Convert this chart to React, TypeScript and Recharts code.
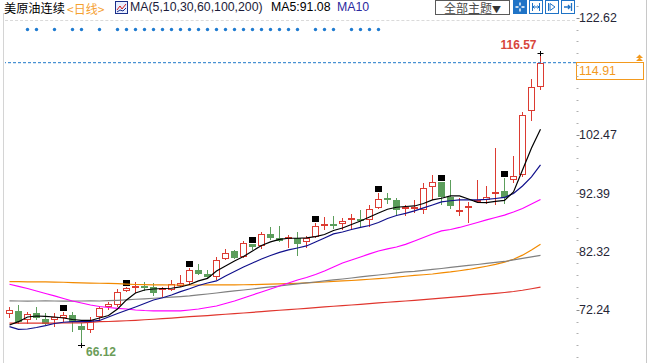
import { ComposedChart, Bar, Line, XAxis, YAxis, ReferenceLine } from 'recharts'

// daily candles (oldest first)
const opens = [
  71.5, 72.07, 70.5, 71.67, 70.7, 70.5, 70.8, 71.38, 69.48, 68.79,
  70.98, 72.7, 73.1, 75.57, 75.81, 76.38, 76.26, 75.64, 75.64, 76.43,
  77.02, 79.14, 78.45, 77.99, 81.04, 82.42, 81.34, 83.58, 83.34, 85.3,
  84.6, 84.32, 84.6, 84.03, 84.89, 86.74, 87.03, 87.03, 87.72, 87.95,
  87.78, 89.8, 91.52, 91.23, 89.62, 89.5, 89.5, 93.52, 94.28, 91.8,
  88.93, 89.8, 90.9, 91.23, 92.05, 92.78, 94.67, 95.54, 106.63, 110.77,
]
const highs = [
  72.8, 73.1, 71.95, 72.7, 71.8, 71.67, 71.95, 71.95, 69.94, 71.08,
  72.93, 73.67, 75.81, 76.2, 77.0, 77.13, 76.85, 76.26, 77.42, 78.28,
  79.54, 80.13, 79.14, 81.44, 82.72, 82.6, 84.15, 83.65, 85.75, 86.51,
  86.79, 85.18, 85.75, 85.01, 87.2, 88.34, 88.51, 88.07, 88.8, 89.45,
  90.36, 92.38, 92.38, 91.52, 90.36, 91.23, 94.11, 95.54, 94.4, 94.67,
  91.52, 90.83, 94.67, 93.64, 100.15, 94.97, 98.81, 106.46, 112.05, 116.57,
]
const lows = [
  70.8, 69.9, 69.9, 70.5, 69.65, 69.36, 70.2, 68.5, 66.12, 68.3,
  70.5, 72.24, 72.81, 75.35, 75.2, 75.52, 74.66, 74.54, 75.52, 76.26,
  76.55, 78.28, 77.71, 77.42, 80.87, 81.04, 81.16, 82.6, 82.77, 84.32,
  83.92, 82.89, 81.61, 82.89, 84.6, 86.05, 86.17, 86.05, 86.22, 86.62,
  86.62, 89.7, 90.48, 88.66, 88.5, 88.93, 88.8, 91.3, 90.36, 89.67,
  88.52, 87.31, 90.8, 90.48, 90.36, 90.48, 94.21, 95.24, 104.85, 110.2,
]
const closes = [
  72.2, 70.2, 71.5, 70.8, 69.9, 71.08, 71.38, 70.22, 68.79, 70.5,
  72.53, 73.22, 75.4, 76.09, 76.26, 76.2, 75.12, 75.86, 76.68, 76.85,
  79.14, 78.45, 77.99, 80.87, 82.13, 81.27, 83.75, 83.17, 85.3, 84.6,
  84.15, 84.6, 83.68, 84.6, 86.74, 86.91, 86.91, 87.6, 87.95, 87.6,
  89.62, 91.35, 91.35, 89.5, 89.8, 89.8, 93.35, 94.28, 91.8, 90.24,
  89.38, 89.97, 91.0, 91.69, 92.45, 91.52, 95.36, 105.89, 110.77, 114.91,
]

// moving averages as drawn
const ma5 = [
  69.65, 70.22, 71.03, 71.2, 71.12, 71.03, 70.86, 70.6, 70.43, 70.43,
  70.86, 71.29, 72.41, 73.97, 75.17, 75.69, 75.86, 75.95, 75.99, 76.21,
  76.64, 77.25, 77.68, 78.97, 79.83, 80.7, 81.47, 82.42, 83.37, 83.98,
  84.41, 84.62, 84.62, 84.67, 84.89, 85.27, 85.96, 86.39, 87.0, 87.6,
  88.29, 88.98, 89.62, 89.97, 90.1, 90.19, 90.62, 91.23, 91.52, 91.92,
  91.92, 91.4, 90.8, 90.76, 90.97, 91.14, 92.61, 96.4, 100.2, 103.43,
]
const ma10 = [
  69.36, 68.88, 68.96, 69.22, 69.53, 69.91, 70.12, 70.22, 70.22, 70.26,
  70.43, 71.03, 71.64, 72.19, 72.76, 73.36, 73.97, 74.35, 74.83, 75.4,
  75.9, 76.47, 76.9, 77.25, 78.11, 78.89, 79.66, 80.35, 81.04, 81.65,
  82.17, 82.6, 82.94, 83.29, 83.98, 84.67, 85.36, 85.7, 86.13, 86.48,
  86.82, 87.34, 88.03, 88.55, 88.9, 89.33, 89.85, 90.36, 90.88, 91.09,
  91.23, 91.23, 91.23, 91.31, 91.48, 91.66, 92.35, 93.64, 95.2, 97.27,
]
const ma30 = [
  76.68, 76.3, 75.95, 75.52, 75.09, 74.66, 74.22, 73.79, 73.45, 73.1,
  72.84, 72.67, 72.53, 72.41, 72.24, 72.15, 72.1, 72.07, 72.07, 72.1,
  72.24, 72.41, 72.67, 72.93, 73.36, 73.79, 74.31, 74.83, 75.35, 75.86,
  76.38, 76.9, 77.42, 77.85, 78.37, 78.97, 79.66, 80.35, 80.87, 81.39,
  81.91, 82.42, 82.77, 83.11, 83.55, 84.15, 84.75, 85.36, 85.88, 86.13,
  86.48, 86.91, 87.34, 87.78, 88.2, 88.6, 89.15, 89.76, 90.54, 91.31,
]
const ma60 = [
  73.8, 73.79, 73.78, 73.79, 73.8, 73.79, 73.77, 73.78, 73.79, 73.8,
  73.79, 73.85, 73.91, 74.0, 74.09, 74.17, 74.26, 74.35, 74.45, 74.55,
  74.66, 74.83, 75.0, 75.17, 75.35, 75.52, 75.69, 75.86, 76.04, 76.21,
  76.38, 76.56, 76.73, 76.9, 77.07, 77.25, 77.42, 77.59, 77.76, 77.94,
  78.11, 78.28, 78.45, 78.63, 78.8, 78.89, 79.06, 79.23, 79.4, 79.58,
  79.75, 79.92, 80.09, 80.27, 80.44, 80.61, 80.87, 81.13, 81.39, 81.65,
]
const ma100 = [
  77.12, 77.12, 77.1, 77.1, 77.08, 77.06, 77.02, 76.95, 76.9, 76.88,
  76.85, 76.82, 76.78, 76.7, 76.64, 76.6, 76.58, 76.56, 76.55, 76.55,
  76.55, 76.55, 76.56, 76.56, 76.56, 76.57, 76.59, 76.62, 76.66, 76.69,
  76.73, 76.78, 76.83, 76.9, 76.99, 77.07, 77.16, 77.25, 77.33, 77.42,
  77.54, 77.64, 77.76, 77.9, 78.06, 78.2, 78.32, 78.45, 78.63, 78.8,
  79.01, 79.23, 79.49, 79.78, 80.1, 80.5, 81.0, 81.7, 82.6, 83.6,
]
const ma200 = [
  69.96, 69.96, 69.97, 69.97, 69.98, 69.98, 69.99, 70.0, 70.02, 70.1,
  70.22, 70.25, 70.3, 70.38, 70.46, 70.55, 70.64, 70.74, 70.85, 70.97,
  71.08, 71.18, 71.28, 71.38, 71.5, 71.6, 71.72, 71.84, 71.96, 72.07,
  72.19, 72.31, 72.41, 72.53, 72.65, 72.76, 72.88, 73.0, 73.1, 73.22,
  73.34, 73.45, 73.57, 73.69, 73.79, 73.91, 74.03, 74.14, 74.28, 74.41,
  74.55, 74.69, 74.83, 74.97, 75.11, 75.26, 75.43, 75.64, 75.9, 76.17,
]

const yTicks = [72.24, 82.32, 92.39, 102.47, 122.62]
const lastClose = 114.91
const markedDays = [7, 14, 21, 28, 35, 42, 49, 56]
const eventDays = [
  3, 4, 6, 8, 9, 11, 13, 14, 15, 16, 17, 18, 19, 20, 21, 22, 23, 24, 25, 26,
  27, 28, 29, 30, 31, 32, 33, 35, 36, 37, 39, 40, 41, 42,
]
const blankSlots = 4

const UP = '#dc3b32'
const DOWN = '#5c9e5c'
const LATIN = '"Liberation Sans", Arial, "Noto Sans CJK SC", sans-serif'
const CJK = '"Noto Sans CJK SC", "Liberation Sans", sans-serif'

const hiIdx = highs.indexOf(Math.max(...highs))
const loIdx = lows.indexOf(Math.min(...lows))

const data = [
  ...opens.map((o, i) => ({
    day: i + 1,
    hl: [lows[i], highs[i]],
    o, h: highs[i], l: lows[i], c: closes[i],
    ma5: ma5[i], ma10: ma10[i], ma30: ma30[i], ma60: ma60[i], ma100: ma100[i], ma200: ma200[i],
  })),
  ...Array.from({ length: blankSlots }, (_, k) => ({ day: opens.length + k + 1 })),
]

// minor ticks: five per labelled step, plus the labelled ones themselves
const minorStep = (yTicks[1] - yTicks[0]) / 5
const minorTicks: number[] = []
for (let k = -4; k <= 26; k++) {
  const v = yTicks[0] + k * minorStep
  if (!yTicks.some((t) => Math.abs(t - v) < 0.5)) minorTicks.push(v)
}
const axisTicks = [...minorTicks, ...yTicks]

function Candle(props: any) {
  const { x, width, y, height, payload } = props
  if (!payload || payload.o == null) return null
  const idx = payload.day - 1
  const cx = Math.floor(x + width / 2) + 0.5
  const k = payload.h > payload.l ? height / (payload.h - payload.l) : 0
  const py = (v: number) => Math.round(y + (payload.h - v) * k)
  const yH = py(payload.h)
  const yL = py(payload.l)
  const yO = py(payload.o)
  const yC = py(payload.c)
  const top = Math.min(yO, yC)
  const bot = Math.max(yO, yC)
  const up = payload.c >= payload.o
  const parts: any[] = []

  if (up) {
    if (bot - top < 3) {
      parts.push(<line key="w" x1={cx} x2={cx} y1={yH} y2={yL} stroke={UP} />)
      parts.push(<rect key="b" x={cx - 3.5} y={top - 1} width={7} height={2} fill={UP} />)
    } else {
      parts.push(<line key="wu" x1={cx} x2={cx} y1={yH} y2={top} stroke={UP} />)
      parts.push(<line key="wd" x1={cx} x2={cx} y1={bot} y2={yL} stroke={UP} />)
      parts.push(
        <rect key="b" x={cx - 3} y={top + 0.5} width={6} height={bot - top - 1} fill="#fff" stroke={UP} />,
      )
    }
  } else {
    parts.push(<line key="w" x1={cx} x2={cx} y1={yH} y2={yL} stroke={DOWN} />)
    parts.push(<rect key="b" x={cx - 3.5} y={top} width={7} height={Math.max(2, bot - top)} fill={DOWN} />)
  }

  if (markedDays.includes(payload.day)) {
    parts.push(<rect key="m" x={cx - 3.5} y={yH - 7} width={7} height={6} fill="#000" />)
  }
  if (eventDays.includes(payload.day)) {
    parts.push(<circle key="e" cx={cx} cy={29.5} r={1.7} fill="#1f7bd0" />)
  }
  if (idx === hiIdx) {
    parts.push(<line key="hx" x1={cx - 3} x2={cx + 3} y1={yH + 0.5} y2={yH + 0.5} stroke="#000" />)
    parts.push(<line key="hy" x1={cx} x2={cx} y1={yH - 2} y2={yH + 3} stroke="#000" />)
    parts.push(
      <text key="ht" x={cx - 4} y={yH - 8} dy="0.35em" textAnchor="end" fontSize={12} fontWeight="bold"
        fill="#d8463c" fontFamily={LATIN}>{payload.h.toFixed(2)}</text>,
    )
  }
  if (idx === loIdx) {
    parts.push(<line key="lx" x1={cx - 3.5} x2={cx + 3.5} y1={yL + 0.5} y2={yL + 0.5} stroke="#000" />)
    parts.push(<line key="ly" x1={cx} x2={cx} y1={yL - 2} y2={yL + 3} stroke="#000" />)
    parts.push(
      <text key="lt" x={cx + 4.5} y={yL + 7} dy="0.35em" fontSize={12} fontWeight="bold"
        fill="#6b9c58" fontFamily={LATIN}>{payload.l.toFixed(2)}</text>,
    )
  }
  return <g>{parts}</g>
}

function AxisTick(props: any) {
  const { x, y, payload } = props
  const v = payload.value
  const yy = Math.round(y) + 0.5
  const major = yTicks.includes(v)
  if (!major) return <line x1={x - 4.5} x2={x - 2.5} y1={yy} y2={yy} stroke="#b0b0b0" />
  return (
    <g>
      <line x1={x - 4.5} x2={x - 1.5} y1={yy} y2={yy} stroke="#8a8a8a" />
      <text x={x - 2} y={y} dy="0.35em" fontSize={12.4} fill="#262636" fontFamily={LATIN}>
        {v.toFixed(2)}
      </text>
    </g>
  )
}

function PriceTag(props: any) {
  const vb = props.viewBox
  if (!vb) return null
  const x0 = Math.round(vb.x + vb.width) - 5
  const y0 = Math.round(vb.y)
  return (
    <g>
      <rect x={x0 + 0.5} y={y0 - 0.5} width={67} height={17} fill="#fff" stroke="#f39a1e" />
      <text x={x0 + 3} y={y0 + 8} dy="0.35em" fontSize={12.4} fill="#f39a1e" fontFamily={LATIN}>
        {lastClose.toFixed(2)}
      </text>
      <path
        d={`M${x0 + 60} ${y0 - 2} l3.5 -3.5 l3.5 3.5 z M${x0 + 60} ${y0 - 5} l3.5 -3.5 l3.5 3.5 z`}
        fill="#f39a1e"
      />
    </g>
  )
}

function ToolIcon({ left, kind }: { left: number; kind: number }) {
  const blue = '#1f73c6'
  return (
    <svg width={14} height={14} style={{ position: 'absolute', left, top: 0 }}>
      {kind === 0 ? (
        <g>
          <rect x={0} y={0} width={14} height={14} fill={blue} />
          <path d="M7 2.5v3M7 8.5v3M2.5 7h3M8.5 7h3" stroke="#fff" strokeWidth={1.4} />
        </g>
      ) : (
        <g>
          <rect x={0.5} y={0.5} width={13} height={13} fill="#fff" stroke={blue} />
          {kind === 1 && <path d="M3.5 3v8M10.5 3v8M4 7h6M5.5 5.5L4 7l1.5 1.5M8.5 5.5L10 7l-1.5 1.5" stroke={blue} fill="none" />}
          {kind === 2 && <g><path d="M3.5 3v8" stroke={blue} /><path d="M5 3.5l5 3.5-5 3.5z" fill="none" stroke={blue} /></g>}
          {kind === 3 && <path d="M10.5 3v8M3 7h6M7 5l2 2-2 2" stroke={blue} fill="none" strokeWidth={1.3} />}
        </g>
      )}
    </svg>
  )
}

export default function App() {
  return (
    <div style={{ position: 'absolute', left: 0, top: 0, width: 648, height: 363, background: '#fff', overflow: 'hidden' }}>
      <ComposedChart
        width={648}
        height={363}
        data={data}
        margin={{ top: 0, right: 0, bottom: 0, left: 5 }}
        style={{ position: 'absolute', left: 0, top: 0 }}
      >
        <XAxis dataKey="day" hide />
        <YAxis
          orientation="right"
          width={67}
          domain={[63.09, 125.73]}
          allowDataOverflow
          ticks={axisTicks}
          interval={0}
          tickSize={0}
          tickMargin={0}
          axisLine={false}
          tickLine={false}
          tick={(p: any) => <AxisTick {...p} />}
        />
        <ReferenceLine y={lastClose} stroke="#1e78c8" strokeDasharray="3 2" label={(p: any) => <PriceTag {...p} />} />
        <Bar dataKey="hl" shape={(p: any) => <Candle {...p} />} isAnimationActive={false} />
        <Line dataKey="ma200" stroke="#e0362e" strokeWidth={1.2} dot={false} isAnimationActive={false} />
        <Line dataKey="ma100" stroke="#f28a00" strokeWidth={1.2} dot={false} isAnimationActive={false} />
        <Line dataKey="ma60" stroke="#808080" strokeWidth={1.2} dot={false} isAnimationActive={false} />
        <Line dataKey="ma30" stroke="#ff00ff" strokeWidth={1.2} dot={false} isAnimationActive={false} />
        <Line dataKey="ma10" stroke="#10108c" strokeWidth={1.2} dot={false} isAnimationActive={false} />
        <Line dataKey="ma5" stroke="#000000" strokeWidth={1.2} dot={false} isAnimationActive={false} />
      </ComposedChart>

      {/* frame lines */}
      <div style={{ position: 'absolute', left: 3, top: 13, width: 1, height: 350, background: '#d4d4d4' }} />
      <div style={{ position: 'absolute', left: 646, top: 0, width: 1, height: 363, background: '#c8c8c8' }} />
      <div style={{ position: 'absolute', left: 5, top: 20, width: 570, borderTop: '1px dashed #dadada' }} />

      {/* title row */}
      <div style={{ position: 'absolute', left: 4, top: 1, fontSize: 12.2, lineHeight: '15px', fontFamily: CJK, color: '#000', whiteSpace: 'nowrap' }}>
        美原油连续
      </div>
      <div style={{ position: 'absolute', left: 67, top: 1, fontSize: 12, lineHeight: '15px', fontFamily: CJK, color: '#f5a030', whiteSpace: 'nowrap' }}>
        &lt;日线&gt;
      </div>
      <svg width={13} height={13} style={{ position: 'absolute', left: 115, top: 1 }}>
        <rect x={0.5} y={0.5} width={12} height={12} fill="#e8eeff" stroke="#1a2f8a" />
        <path d="M2 9l3-4 2 3 4-5" stroke="#d02020" fill="none" />
        <path d="M2 11l3-2 3 1 3-3" stroke="#1a2f8a" fill="none" />
      </svg>
      <div style={{ position: 'absolute', left: 130, top: 0, fontSize: 12.3, lineHeight: '15px', fontFamily: LATIN, color: '#1c1c3a', whiteSpace: 'nowrap' }}>
        MA(5,10,30,60,100,200)
      </div>
      <div style={{ position: 'absolute', left: 271, top: 0, fontSize: 12.3, lineHeight: '15px', fontFamily: LATIN, color: '#000', whiteSpace: 'nowrap' }}>
        MA5:91.08
      </div>
      <div style={{ position: 'absolute', left: 337, top: 0, fontSize: 12.3, lineHeight: '15px', fontFamily: LATIN, color: '#2a2aa0', whiteSpace: 'nowrap' }}>
        MA10
      </div>

      {/* toolbar */}
      <div
        style={{
          position: 'absolute', left: 435, top: 0, width: 75, height: 15, boxSizing: 'border-box',
          border: '1px solid #5a5a5a', fontSize: 12, lineHeight: '13px', fontFamily: CJK, color: '#4a4a4a',
          textAlign: 'center', whiteSpace: 'nowrap',
        }}
      >
        全部主题<span style={{ fontSize: 9, color: '#333' }}>▼</span>
      </div>
      <ToolIcon left={513} kind={0} />
      <ToolIcon left={529} kind={1} />
      <ToolIcon left={545} kind={2} />
      <ToolIcon left={561} kind={3} />
    </div>
  )
}
